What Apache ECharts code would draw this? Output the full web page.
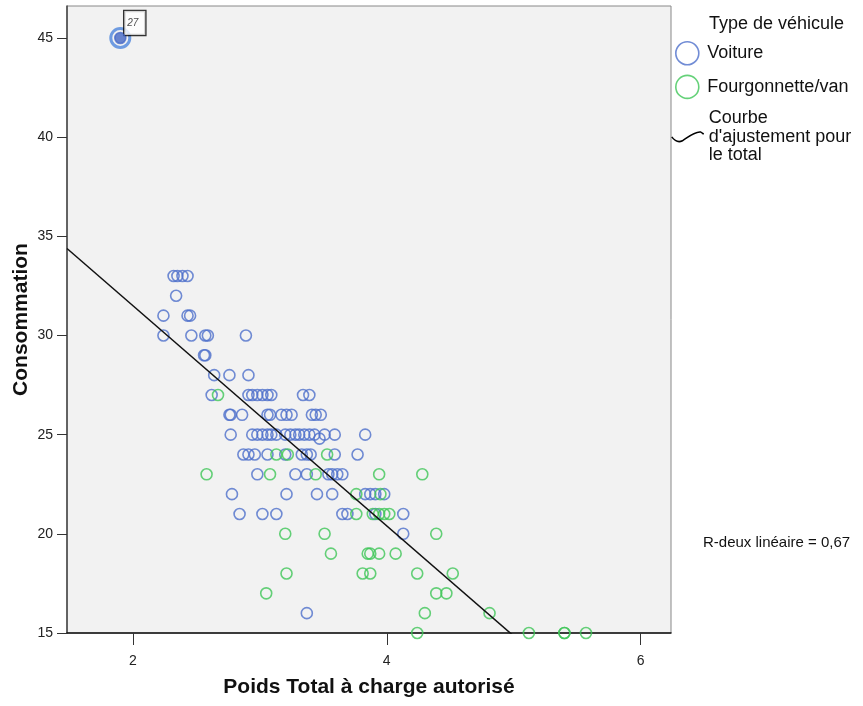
<!DOCTYPE html>
<html>
<head>
<meta charset="utf-8">
<script src="https://cdn.jsdelivr.net/npm/echarts@6/dist/echarts.min.js"></script>
<style>html,body{margin:0;padding:0;background:#fff;}#c{width:863px;height:706px;}</style>
</head>
<body>
<div id="c"></div>
<script>
// ---- Data ----
const voitureX = [1.90,
  2.32, 2.35, 2.39, 2.43,
  2.34,
  2.24, 2.43, 2.45,
  2.24, 2.46, 2.57, 2.59, 2.89,
  2.56, 2.57,
  2.64, 2.76, 2.91,
  2.62, 2.91, 2.94, 2.98, 3.02, 3.06, 3.09, 3.34, 3.39,
  2.76, 2.77, 2.86, 3.06, 3.08, 3.17, 3.21, 3.25, 3.41, 3.44, 3.48,
  2.77, 2.94, 2.98, 3.02, 3.06, 3.09, 3.13, 3.20, 3.24, 3.28, 3.31, 3.35, 3.39, 3.43, 3.51, 3.59, 3.83, 3.47,
  2.87, 2.91, 2.96, 3.06, 3.20, 3.33, 3.37, 3.40, 3.59, 3.77,
  2.98, 3.28, 3.37, 3.54, 3.57, 3.61, 3.65,
  2.78, 3.21, 3.45, 3.57, 3.83, 3.87, 3.91, 3.98,
  2.84, 3.02, 3.13, 3.65, 3.69, 3.91, 4.13,
  4.13,
  3.37];
const voitureY = [45,
  33, 33, 33, 33,
  32,
  31, 31, 31,
  30, 30, 30, 30, 30,
  29, 29,
  28, 28, 28,
  27, 27, 27, 27, 27, 27, 27, 27, 27,
  26, 26, 26, 26, 26, 26, 26, 26, 26, 26, 26,
  25, 25, 25, 25, 25, 25, 25, 25, 25, 25, 25, 25, 25, 25, 25, 25, 25, 24.8,
  24, 24, 24, 24, 24, 24, 24, 24, 24, 24,
  23, 23, 23, 23, 23, 23, 23,
  22, 22, 22, 22, 22, 22, 22, 22,
  21, 21, 21, 21, 21, 21, 21,
  20,
  16];
const fourgonX = [2.67,
  3.13, 3.22, 3.53,
  2.58, 3.08, 3.44, 3.94, 4.28,
  3.76, 3.95,
  3.76, 3.89, 3.94, 3.98, 4.02,
  3.20, 3.51, 4.39,
  3.56, 3.85, 3.87, 3.94, 4.07,
  3.21, 3.81, 3.87, 4.24, 4.52,
  3.05, 4.39, 4.47,
  4.30, 4.81,
  4.24, 5.12, 5.40, 5.40, 5.57];
const fourgonY = [27,
  24, 24, 24,
  23, 23, 23, 23, 23,
  22, 22,
  21, 21, 21, 21, 21,
  20, 20, 20,
  19, 19, 19, 19, 19,
  18, 18, 18, 18, 18,
  17, 17, 17,
  16, 16,
  15, 15, 15, 15, 15];
const labeledIndex = 0;      // case "27" in voiture arrays
const labeledCase = '27';
const fitIntercept = 42.6;   // total fit line
const fitSlope = -5.55;
const rSquared = '0,67';
const xTicks = [2, 4, 6];
const yTicks = [15, 20, 25, 30, 35, 40, 45];
const xRange = [1.48, 6.24];
const yRange = [15, 46.61];

const seriesNames = ['Voiture', 'Fourgonnette/van'];
const fitName = "Courbe d'ajustement pour le total";

// ---- build ----
const blue = '#4e6fcb', green = '#3fc557';
const zip = (xs, ys) => xs.map((x, i) => [x, ys[i]]);
const fitData = xRange.map(x => [x, fitIntercept + fitSlope * x]);
const font = '"Liberation Sans", Arial, sans-serif';

const chart = echarts.init(document.getElementById('c'), null, {renderer: 'canvas'});
chart.setOption({
  backgroundColor: '#fff',
  animation: false,
  textStyle: {fontFamily: font},
  title: [
    {text: 'Type de véhicule', left: 709, top: 15, padding: 0,
     textStyle: {fontSize: 18, lineHeight: 18, fontWeight: 'normal', color: '#111', fontFamily: font}},
    {text: 'R-deux linéaire = ' + rSquared, left: 703, top: 534, padding: 0,
     textStyle: {fontSize: 15, lineHeight: 18, fontWeight: 'normal', color: '#111', fontFamily: font}}
  ],
  legend: [
    {
      data: seriesNames,
      orient: 'vertical', left: 675, top: 41, padding: 0,
      itemWidth: 30, itemHeight: 23, itemGap: 9,
      icon: 'circle',
      itemStyle: {color: 'transparent', borderWidth: 1.6},
      textStyle: {fontSize: 18, lineHeight: 23, color: '#111', fontFamily: font},
      selectedMode: false
    },
    {
      data: [fitName],
      orient: 'vertical', left: 671, top: 109, padding: 0,
      itemWidth: 32, itemHeight: 12,
      icon: 'path://M0,6 C3,10 7,12 11,10 C17,6 24,0 30,1 C31,1.5 32,2.5 33,3',
      itemStyle: {color: 'transparent', borderColor: '#000', borderWidth: 1.5},
      formatter: () => "Courbe\nd'ajustement pour\nle total",
      textStyle: {fontSize: 18, lineHeight: 18.5, color: '#111', fontFamily: font},
      selectedMode: false
    }
  ],
  grid: {left: 67, top: 6, right: 192, bottom: 73, containLabel: false, outerBoundsMode: 'none',
         show: true, backgroundColor: '#f2f2f2', borderColor: '#888', borderWidth: 1},
  xAxis: {
    type: 'value', min: xRange[0], max: xRange[1],
    name: 'Poids Total à charge autorisé', nameLocation: 'middle', nameGap: 44, nameMoveOverlap: false,
    nameTextStyle: {fontSize: 21, fontWeight: 'bold', color: '#111', fontFamily: font},
    axisLine: {show: true, onZero: false, lineStyle: {color: '#111', width: 1.5}},
    axisTick: {show: true, length: 12, customValues: xTicks, lineStyle: {color: '#333', width: 1}},
    axisLabel: {customValues: xTicks, margin: 21, fontSize: 14, color: '#222', fontFamily: font},
    splitLine: {show: false}
  },
  yAxis: {
    type: 'value', min: yRange[0], max: yRange[1],
    name: 'Consommation', nameLocation: 'middle', nameGap: 35, nameMoveOverlap: false,
    nameTextStyle: {fontSize: 21, fontWeight: 'bold', color: '#111', fontFamily: font},
    axisLine: {show: true, onZero: false, lineStyle: {color: '#444', width: 1.5}},
    axisTick: {show: true, length: 10, customValues: yTicks, lineStyle: {color: '#333', width: 1}},
    axisLabel: {customValues: yTicks, margin: 14, fontSize: 14, color: '#222', fontFamily: font},
    splitLine: {show: false}
  },
  series: [
    {
      name: fitName, type: 'line', data: fitData, showSymbol: false, clip: true,
      lineStyle: {color: '#111', width: 1.5}, itemStyle: {color: '#111'}, z: 5
    },
    {
      name: seriesNames[0], type: 'scatter', data: zip(voitureX, voitureY),
      symbolSize: 11, itemStyle: {color: 'transparent', borderColor: blue, borderWidth: 1.6}, z: 3
    },
    {
      name: seriesNames[1], type: 'scatter', data: zip(fourgonX, fourgonY),
      symbolSize: 11, itemStyle: {color: 'transparent', borderColor: green, borderWidth: 1.6}, z: 4
    },
    {
      name: 'ring', type: 'scatter', data: [[voitureX[labeledIndex], voitureY[labeledIndex]]],
      symbolSize: 19, itemStyle: {color: 'transparent', borderColor: '#4c84dc', borderWidth: 3}, z: 6,
      label: {
        show: true, formatter: labeledCase, position: [15, -16],
        align: 'left', verticalAlign: 'top',
        fontSize: 10, fontStyle: 'italic', color: '#222', backgroundColor: '#fff', borderColor: '#000', borderWidth: 1.3,
        width: 15, height: 16, padding: [4, 3, 4, 3], lineHeight: 16
      }
    },
    {
      name: 'dot', type: 'scatter', data: [[voitureX[labeledIndex], voitureY[labeledIndex]]],
      symbolSize: 11, itemStyle: {color: '#4466c4'}, z: 7
    }
  ]
});
</script>
</body>
</html>
